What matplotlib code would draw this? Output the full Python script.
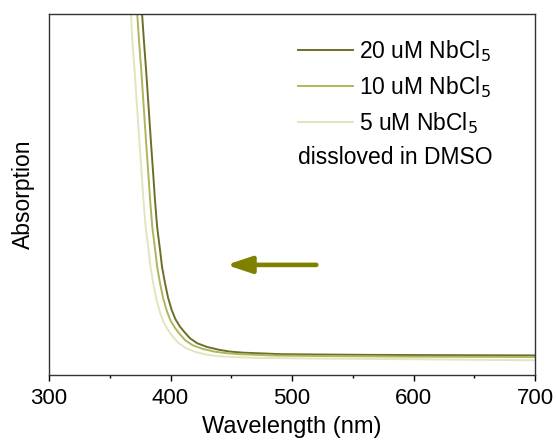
import matplotlib
matplotlib.use("Agg")
import matplotlib.pyplot as plt

plt.rcParams['font.family'] = ['Liberation Sans', 'DejaVu Sans']

# spectra (arbitrary absorption units, axis 0..1)
wl_20 = [376, 378, 380, 382, 384, 386, 387.2, 389, 391.4, 393, 395.5, 398, 401, 404, 407.8,
         412, 416, 422, 430, 440, 449, 460, 475, 490, 520, 560, 600, 650, 700]
abs_20 = [1.03, 0.93, 0.84, 0.74, 0.64, 0.545, 0.485, 0.41, 0.346, 0.30, 0.254, 0.214, 0.180, 0.155, 0.134,
          0.117, 0.102, 0.088, 0.078, 0.070, 0.065, 0.062, 0.060, 0.058, 0.057, 0.056, 0.0555, 0.055, 0.0545]

wl_10 = [372, 374, 376, 378, 380, 382, 383.2, 385, 387.4, 389, 391.5, 394, 397, 400, 403.8,
         408, 412, 418, 426, 436, 445, 456, 471, 486, 516, 556, 596, 646, 700]
abs_10 = [1.03, 0.93, 0.84, 0.74, 0.64, 0.545, 0.485, 0.41, 0.346, 0.30, 0.252, 0.212, 0.177, 0.151, 0.130,
          0.112, 0.097, 0.083, 0.073, 0.065, 0.061, 0.058, 0.056, 0.054, 0.053, 0.052, 0.051, 0.0505, 0.050]

wl_5 = [367, 368.5, 370.5, 372.5, 374.5, 376.5, 377.7, 379.5, 382, 383.5, 386, 388.5, 391.5, 394.5, 398.5,
        402.5, 406.5, 412.5, 420.5, 430.5, 440, 452, 468, 485, 515, 555, 595, 645, 700]
abs_5 = [1.03, 0.93, 0.84, 0.74, 0.64, 0.545, 0.485, 0.41, 0.346, 0.30, 0.25, 0.208, 0.172, 0.145, 0.122,
         0.104, 0.089, 0.075, 0.064, 0.056, 0.052, 0.050, 0.048, 0.047, 0.046, 0.045, 0.044, 0.0425, 0.041]

labels = ["20 uM NbCl$_5$", "10 uM NbCl$_5$", "5 uM NbCl$_5$"]
colors = ["#6e6e2c", "#b0b55c", "#e2e5bd"]

fig = plt.figure(figsize=(5.57, 4.46), dpi=100)
ax = fig.add_axes([0.088, 0.159, 0.8725, 0.81])

for x, y, lab, c in zip([wl_20, wl_10, wl_5], [abs_20, abs_10, abs_5], labels, colors):
    ax.plot(x, y, color=c, lw=1.4, label=lab)

ax.set_xlim(300, 700)
ax.set_ylim(0, 1)
ax.set_xticks([300, 400, 500, 600, 700])
ax.set_xticks([350, 450, 550, 650], minor=True)
ax.set_yticks([])
ax.tick_params(axis='x', which='major', length=4, width=1, labelsize=16, direction='out', pad=5)
ax.tick_params(axis='x', which='minor', length=2.5, width=1, direction='out')
for s in ax.spines.values():
    s.set_linewidth(1.0)
    s.set_color('#333333')

ax.set_xlabel("Wavelength (nm)", fontsize=17, labelpad=5)
ax.set_ylabel("Absorption", fontsize=16.5, labelpad=10)

leg = ax.legend(loc='upper left', bbox_to_anchor=(0.48, 0.977), frameon=False,
                fontsize=16.5, handlelength=2.4, handletextpad=0.26, labelspacing=0.44,
                borderaxespad=0.3)
ax.text(0.512, 0.601, "dissloved in DMSO", transform=ax.transAxes, fontsize=16.5,
        ha='left', va='center')

ax.annotate("", xy=(446, 0.305), xytext=(520, 0.305),
            arrowprops=dict(arrowstyle='-|>,head_length=1.5,head_width=0.5',
                            color='#808000', lw=3.3, shrinkA=0, shrinkB=0))

fig.savefig("out.png", dpi=100)
